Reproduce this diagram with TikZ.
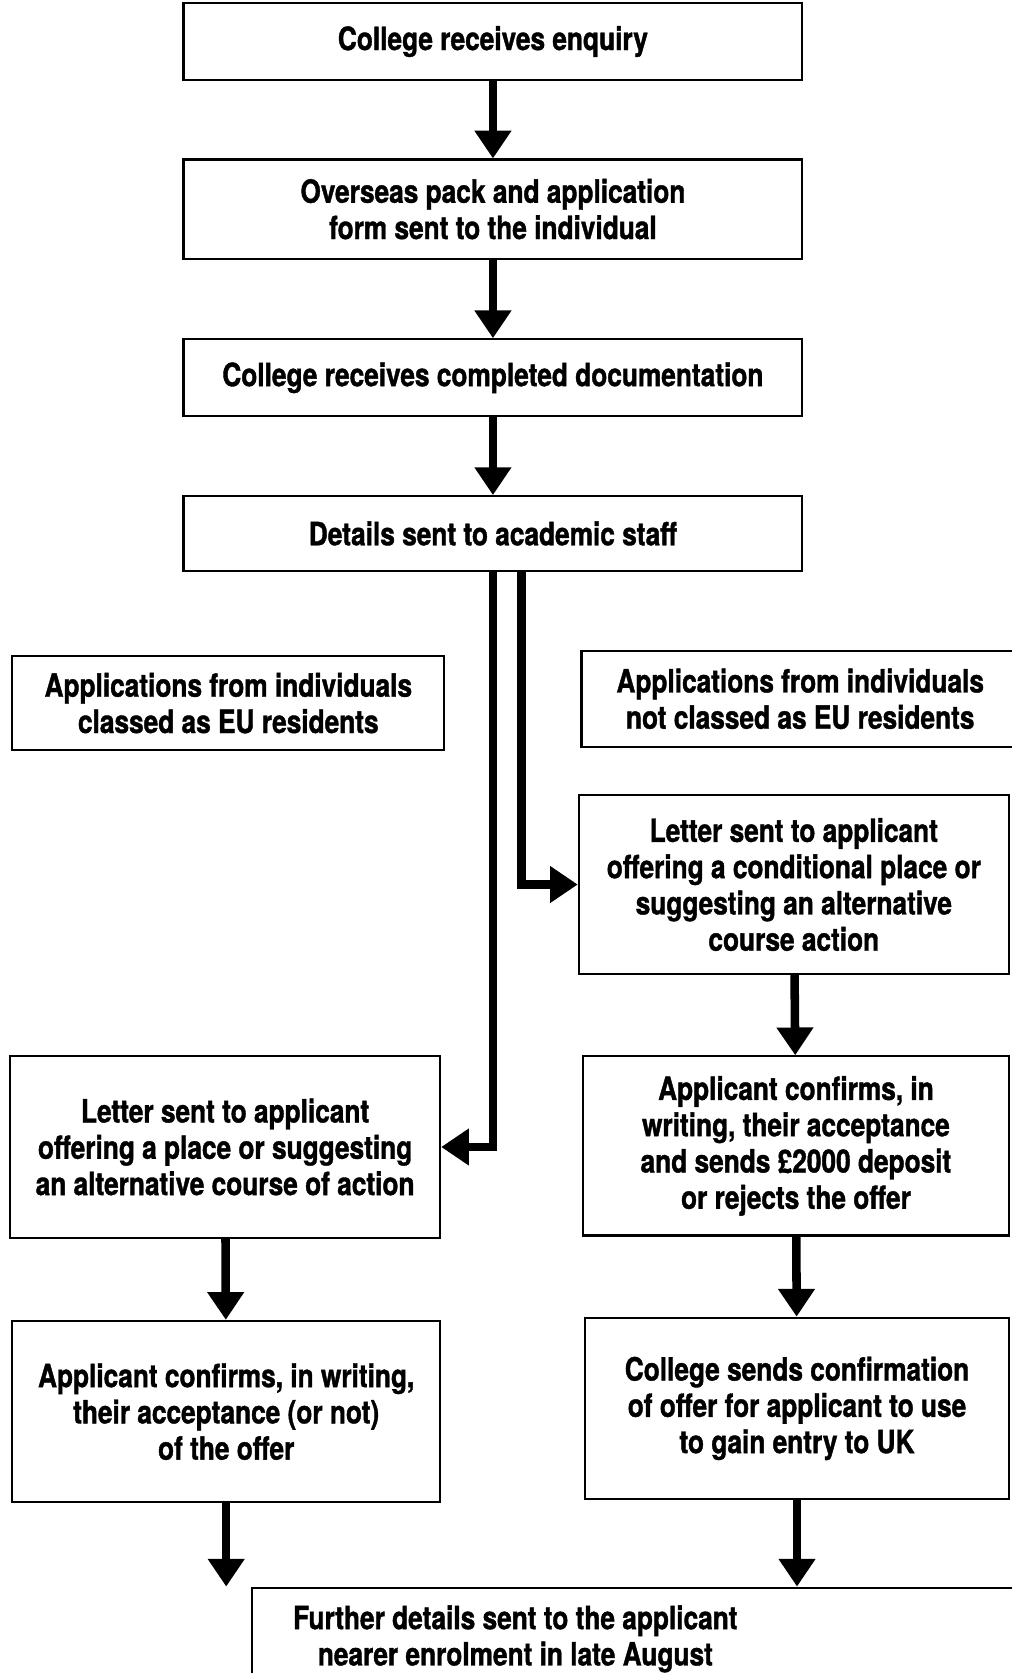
\documentclass[tikz,border=0pt]{standalone}
\usepackage{fontspec}
\setmainfont{TeX Gyre Heros}[FakeStretch=0.82,
  BoldFeatures={FakeStretch=0.82,FakeBold=1.2}]
\usetikzlibrary{arrows.meta,positioning}

\begin{document}
\begin{tikzpicture}[
      x=1pt,y=-1pt,
      box/.style={draw,line width=2pt,align=center,inner sep=0,
        font=\bfseries\fontsize{30}{34}\selectfont},
      flow/.style={line width=8pt,line join=miter,
        -{Triangle[width=33pt,length=26pt]}}
    ]
    \useasboundingbox (0,0) rectangle (948,1568);
    % main column
    \node[box,minimum width=580pt,minimum height=72pt] (enquiry) at (462,39)
      {College receives enquiry};
    \node[box,minimum width=580pt,minimum height=93pt] (pack) at (462,196)
      {Overseas pack and application\\form sent to the individual};
    \node[box,minimum width=580pt,minimum height=72pt] (docs) at (462,354)
      {College receives completed documentation};
    \node[box,minimum width=580pt,minimum height=70pt] (details) at (462,500)
      {Details sent to academic staff};
    % EU branch
    \node[box,minimum width=405pt,minimum height=88pt] (eu) at (214,659)
      {Applications from individuals\\classed as EU residents};
    \node[box,minimum width=403pt,minimum height=170pt] (letter) at (211,1075)
      {Letter sent to applicant\\offering a place or suggesting\\an alternative course of action};
    \node[box,minimum width=401pt,minimum height=170pt] (confirmeu) at (212,1323)
      {Applicant confirms, in writing,\\their acceptance (or not)\\of the offer};
    % non-EU branch
    \node[box,minimum width=410pt,minimum height=90pt] (noneu) at (750,655)
      {Applications from individuals\\not classed as EU residents};
    \node[box,minimum width=403pt,minimum height=168pt] (condletter) at (744,829)
      {Letter sent to applicant\\offering a conditional place or\\suggesting an alternative\\course action};
    \node[box,minimum width=400pt,minimum height=168pt] (deposit) at (746,1074)
      {Applicant confirms, in\\writing, their acceptance\\and sends £2000 deposit\\or rejects the offer};
    \node[box,minimum width=398pt,minimum height=170pt] (ukentry) at (747,1320)
      {College sends confirmation\\of offer for applicant to use\\to gain entry to UK};
    % final step
    \node[box,anchor=north west,minimum width=760pt,minimum height=110pt] (further) at (235,1487) {};
    \node[box,draw=none] (furthertext) at (483,1536)
      {Further details sent to the applicant\\nearer enrolment in late August};

    \draw[flow] (enquiry) -- (pack);
    \draw[flow] (pack) -- (docs);
    \draw[flow] (docs) -- (details);
    \draw[flow] (details.south) |- (letter.east);
    \draw[flow] ([xshift=27pt]details.south) |- (condletter.west);
    \draw[flow] (letter) -- (confirmeu);
    \draw[flow] (confirmeu.south) -- (confirmeu.south |- further.north);
    \draw[flow] (condletter) -- (deposit);
    \draw[flow] (deposit) -- (ukentry);
    \draw[flow] (ukentry.south) -- (ukentry.south |- further.north);
  \end{tikzpicture}
\end{document}
